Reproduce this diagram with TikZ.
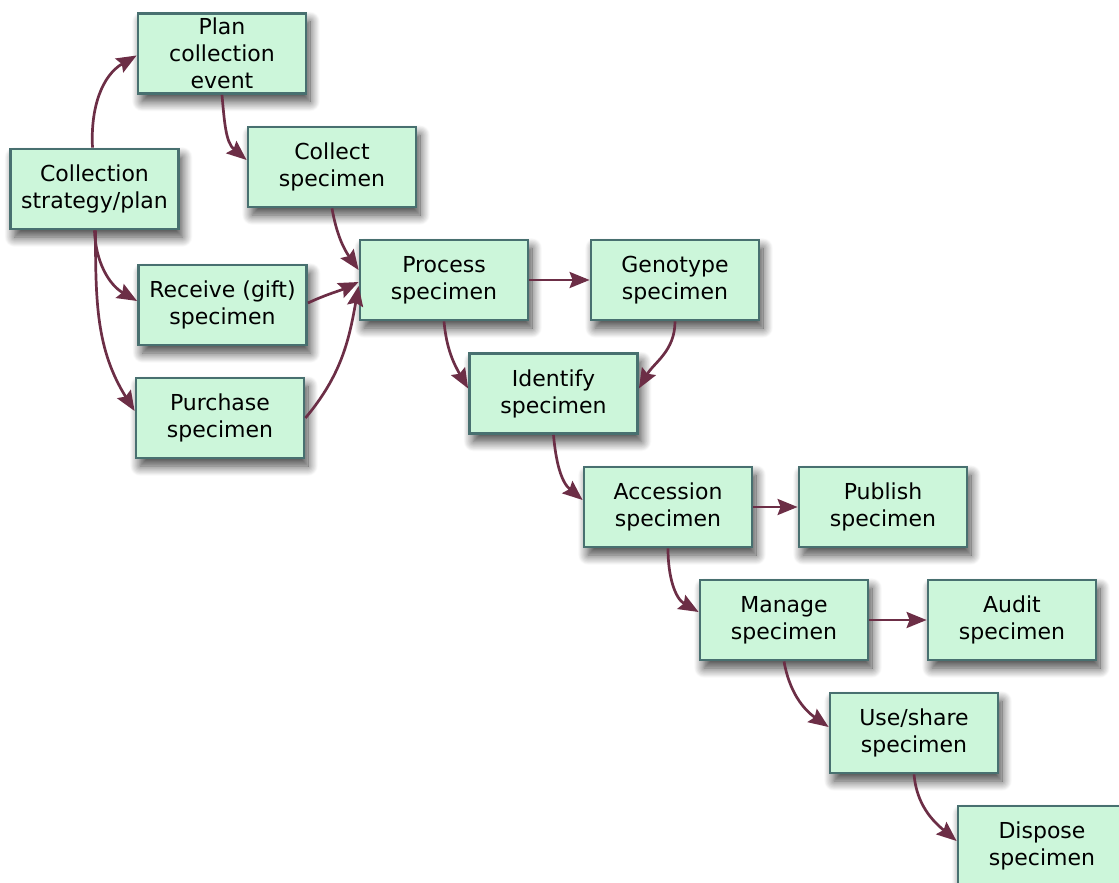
\documentclass[tikz,border=0pt]{standalone}
\usepackage{fontspec}
\setmainfont{DejaVu Sans}
\usetikzlibrary{arrows.meta,shadows.blur}
\definecolor{boxfill}{RGB}{204,246,218}
\definecolor{boxline}{RGB}{72,112,112}
\definecolor{flow}{RGB}{108,46,70}
\begin{document}
\begin{tikzpicture}[x=1pt,y=1pt,
  task/.style={draw=boxline, fill=boxfill, line width=2.8pt,
    minimum width=168pt, minimum height=80pt, inner sep=0pt, align=center,
    font=\fontsize{22}{27}\selectfont,
    blur shadow={shadow xshift=4pt, shadow yshift=-8pt, shadow blur radius=10pt,
      shadow blur steps=16, shadow opacity=75}},
  flowto/.style={draw=flow, line width=2.7pt,
    -{Stealth[length=20pt,width=16pt,inset=3pt]}}
]
\useasboundingbox (0,0) rectangle (1119,-883);

% workflow steps
\node[task] (plan)     at (222,-53.5)  {Plan\\collection\\event};
\node[task] (strat)    at (94.5,-189)  {Collection\\strategy/plan};
\node[task] (collect)  at (332,-167)   {Collect\\specimen};
\node[task] (receive)  at (222.5,-305) {Receive (gift)\\specimen};
\node[task] (purchase) at (220,-418)   {Purchase\\specimen};
\node[task] (process)  at (444,-280)   {Process\\specimen};
\node[task] (genotype) at (675,-280)   {Genotype\\specimen};
\node[task] (identify) at (553.5,-393.5) {Identify\\specimen};
\node[task] (accession) at (668,-507)  {Accession\\specimen};
\node[task] (publish)  at (883,-507)   {Publish\\specimen};
\node[task] (manage)   at (784,-620)   {Manage\\specimen};
\node[task] (audit)    at (1012,-620)  {Audit\\specimen};
\node[task] (use)      at (914,-733)   {Use/share\\specimen};
\node[task] (dispose)  at (1042,-846)  {Dispose\\specimen};

% connectors
\draw[flowto] ([xshift=-2pt]strat.north) to[out=93,in=210] ([yshift=-2pt]plan.west);
\draw[flowto] (plan.south) to[out=-85,in=140] ([yshift=7pt]collect.west);
\draw[flowto] (collect.south) to[out=-80,in=125] ([yshift=10pt]process.west);
\draw[flowto] (strat.south) to[out=-88,in=150] ([yshift=4pt]receive.west);
\draw[flowto] ([xshift=1pt]strat.south) to[out=-90,in=122] ([yshift=7pt]purchase.west);
\draw[flowto] ([yshift=2pt]receive.east) to[out=25,in=205] ([yshift=-2pt]process.west);
\draw[flowto] (purchase.east) to[out=50,in=260] ([yshift=-6pt]process.west);
\draw[flowto] (process.east) -- (genotype.west);
\draw[flowto] (process.south) to[out=-85,in=120] ([yshift=5pt]identify.west);
\draw[flowto] (genotype.south) to[out=-90,in=60] ([yshift=5pt]identify.east);
\draw[flowto] (identify.south) to[out=-85,in=140] ([yshift=7pt]accession.west);
\draw[flowto] (accession.east) -- (publish.west);
\draw[flowto] (accession.south) to[out=-90,in=150] ([yshift=8pt]manage.west);
\draw[flowto] (manage.east) -- (audit.west);
\draw[flowto] (manage.south) to[out=-80,in=145] ([yshift=6pt]use.west);
\draw[flowto] (use.south) to[out=-85,in=140] ([yshift=5pt]dispose.west);
\end{tikzpicture}
\end{document}
